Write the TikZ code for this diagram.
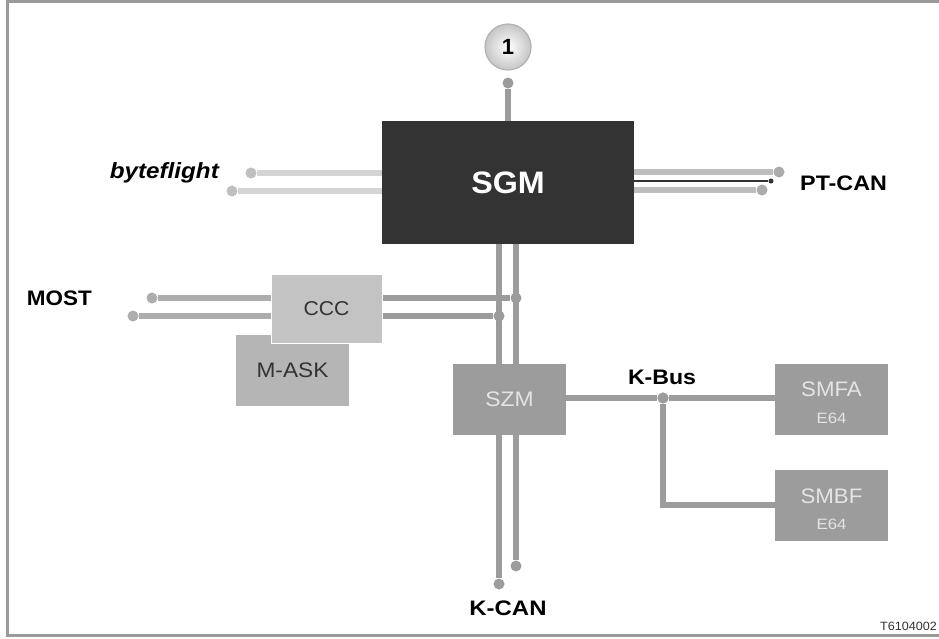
\documentclass[tikz,border=0pt]{standalone}
\usepackage{graphicx}
\usepackage{fontspec}
\setmainfont{Liberation Sans}
\newcommand\wtxt[2]{\scalebox{#1}[1]{#2}}
\definecolor{frameC}{HTML}{9A9A9A}
\definecolor{sgmC}{HTML}{333333}
\definecolor{busC}{HTML}{9C9C9C}
\definecolor{byteC}{HTML}{D4D4D4}
\definecolor{ptC}{HTML}{BEBEBE}
\definecolor{mostC}{HTML}{ADADAD}
\definecolor{cccC}{HTML}{C3C3C3}
\definecolor{maskC}{HTML}{B5B5B5}
\definecolor{ecuC}{HTML}{9C9C9C}
\definecolor{ecuT}{HTML}{E4E4E4}
\begin{document}
\begin{tikzpicture}[x=1pt,y=-1pt,
  every node/.style={font=\fontsize{18}{20}\selectfont},
  ecubox/.style={fill=ecuC, inner sep=0, minimum width=113pt, minimum height=71pt, text=ecuT, align=center},
  dotnode/.style={circle, fill=#1, inner sep=0, minimum size=11pt},
  bus/.style={line width=5.5pt, draw=#1},
  lbl/.style={font=\bfseries\fontsize{21}{24}\selectfont, text=black}]
\useasboundingbox (0,0) rectangle (939,638);
\fill[white] (0,0) rectangle (939,638);
\draw[frameC, line width=3pt] (939,1.5) -- (7.5,1.5) -- (7.5,635.5) -- (939,635.5);

% circle 1
\node[circle, minimum size=46pt, inner sep=0, shade, inner color=white, outer color=gray!45, draw=gray!60, line width=1.2pt,
      font=\bfseries\fontsize{22}{24}\selectfont] (one) at (508,47) {1};
\node[dotnode=busC] (topdot) at (508,83) {};

% coordinates for lines
\coordinate (sgmTop) at (508,121);
\coordinate (vL) at (499,244);
\coordinate (vR) at (516,244);

% top line
\draw[bus=busC] (topdot) -- (sgmTop);

% byteflight
\node[dotnode=byteC!90!black] (bf1) at (251,173) {};
\node[dotnode=byteC!90!black] (bf2) at (232,191) {};
\coordinate (bf1e) at (390,173);
\coordinate (bf2e) at (390,191);
\draw[bus=byteC] (bf1) -- (bf1e);
\draw[bus=byteC] (bf2) -- (bf2e);
\node[lbl, font=\bfseries\itshape\fontsize{22}{24}\selectfont, anchor=east, inner sep=0] (bflbl) at (219,173) {\wtxt{1.1}{byteflight}};

% PT-CAN
\coordinate (pt1s) at (625,172);
\coordinate (pt2s) at (625,181);
\coordinate (pt3s) at (625,190);
\node[dotnode=ptC!90!black] (pt1) at (779,172) {};
\node[dotnode=sgmC, minimum size=5pt] (pt2) at (771,181) {};
\node[dotnode=ptC!90!black] (pt3) at (762,190) {};
\draw[bus=ptC] (pt1s) -- (pt1);
\draw[bus=ptC] (pt3s) -- (pt3);
\draw[sgmC, line width=2pt] (pt2s) -- (pt2);
\node[lbl, anchor=west, inner sep=0] (ptlbl) at (800,183) {\wtxt{1.11}{PT-CAN}};

% K-CAN verticals
\node[dotnode=busC] (kc1) at (499,584) {};
\node[dotnode=busC] (kc2) at (516,566) {};
\draw[bus=busC] (vL) -- (kc1);
\draw[bus=busC] (vR) -- (kc2);
\node[lbl] (kcanlbl) at (508,608) {\wtxt{1.14}{K-CAN}};

% MOST
\node[dotnode=mostC] (m1) at (152,298) {};
\node[dotnode=mostC] (m2) at (133,316) {};
\node[dotnode=busC] (j1) at (516,298) {};
\node[dotnode=busC] (j2) at (499,316) {};
\draw[bus=mostC] (m1) -- (j1);
\draw[bus=mostC] (m2) -- (j2);
\draw[bus=busC] (382,298) -- (j1);
\draw[bus=busC] (382,316) -- (j2);
\node[lbl, anchor=east, inner sep=0] (mostlbl) at (92,298) {\wtxt{1.07}{MOST}};

% SGM box
\node[fill=sgmC, inner sep=0, minimum width=252pt, minimum height=123pt, text=white,
      font=\bfseries\fontsize{31}{32}\selectfont] (sgm) at (508,182.5) {\wtxt{1.04}{SGM}};

% M-ASK and CCC
\node[fill=maskC, inner sep=0, minimum width=113pt, minimum height=71pt, text=black!80,
      font=\fontsize{21}{22}\selectfont] (mask) at (292.5,370.5) {\wtxt{1.08}{M-ASK}};
\node[fill=cccC, draw=white, line width=1pt, inner sep=0, minimum width=111pt, minimum height=69pt, text=black!80,
      font=\fontsize{20}{22}\selectfont] (ccc) at (326.5,308.5) {\wtxt{1.06}{CCC}};

% SZM, SMFA, SMBF
\node[ecubox, font=\fontsize{21}{22}\selectfont] (szm) at (509.5,399) {\wtxt{1.09}{SZM}};
\node[ecubox] (smfa) at (831.5,399) {};
\node[ecubox] (smbf) at (831.5,505.5) {};
\node[text=ecuT, font=\fontsize{21}{22}\selectfont] (smfat) at (831.5,389) {\wtxt{1.06}{SMFA}};
\node[text=ecuT, font=\fontsize{15}{16}\selectfont] (smfae) at (831.5,418) {\wtxt{1.12}{E64}};
\node[text=ecuT, font=\fontsize{21}{22}\selectfont] (smbft) at (831.5,496) {\wtxt{1.06}{SMBF}};
\node[text=ecuT, font=\fontsize{15}{16}\selectfont] (smbfe) at (831.5,524) {\wtxt{1.12}{E64}};

% K-Bus
\node[dotnode=busC] (kb) at (663,398) {};
\coordinate (kbc) at (663,505);
\draw[bus=busC] (szm.east |- kb) -- (kb) -- (smfa.west |- kb);
\draw[bus=busC] (kb) -- (kbc) -- (smbf.west |- kbc);
\node[dotnode=busC] at (kb) {};
\node[lbl] (kbuslbl) at (662,377) {\wtxt{1.1}{K-Bus}};

% code
\node[font=\fontsize{12}{13}\selectfont, text=black!80, anchor=east, inner sep=0] (code) at (937,626) {\wtxt{1.05}{T6104002}};
\end{tikzpicture}
\end{document}
